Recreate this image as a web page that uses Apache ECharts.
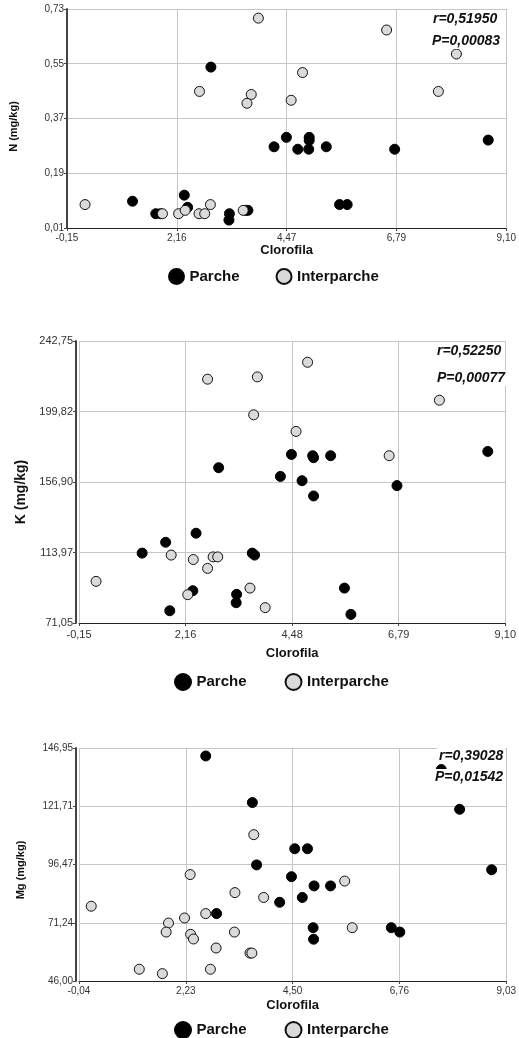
<!DOCTYPE html>
<html>
<head>
<meta charset="utf-8">
<script src="https://cdn.jsdelivr.net/npm/echarts@6/dist/echarts.min.js"></script>
<style>
  html, body { margin: 0; padding: 0; background: #fff; }
  #chart { width: 519px; height: 1038px; }
</style>
</head>
<body>
<div id="chart"></div>
<script>
// --- N (mg/kg) vs Clorofila
const nXTicks = ['-0,15', '2,16', '4,47', '6,79', '9,10']
const nYTicks = ['0,01', '0,19', '0,37', '0,55', '0,73']
const nParcheX = [2.88, 4.47, 4.95, 4.95, 4.21, 4.71, 4.94, 5.31, 6.75, 8.72, 1.23, 1.72, 1.82, 2.32, 2.39, 3.27, 3.26, 3.61, 3.66, 5.59, 5.75]
const nParcheY = [0.539, 0.308, 0.308, 0.298, 0.277, 0.269, 0.269, 0.277, 0.269, 0.299, 0.098, 0.057, 0.057, 0.118, 0.078, 0.057, 0.036, 0.068, 0.068, 0.087, 0.087]
const nInterX = [3.88, 6.58, 8.05, 4.81, 2.64, 3.73, 3.64, 4.57, 7.67, 0.23, 1.86, 2.20, 2.34, 2.63, 2.75, 2.87, 3.56]
const nInterY = [0.700, 0.661, 0.582, 0.521, 0.459, 0.449, 0.420, 0.430, 0.459, 0.087, 0.057, 0.057, 0.068, 0.057, 0.057, 0.087, 0.068]

// --- K (mg/kg) vs Clorofila
const kXTicks = ['-0,15', '2,16', '4,48', '6,79', '9,10']
const kYTicks = ['71,05', '113,97', '156,90', '199,82', '242,75']
const kParcheX = [4.46, 4.92, 4.94, 5.31, 8.72, 2.88, 4.22, 4.69, 6.75, 4.94, 2.39, 1.73, 1.22, 3.61, 3.66, 2.32, 3.27, 3.26, 1.82, 5.61, 5.75]
const kParcheY = [173.7, 172.9, 171.7, 172.9, 175.5, 165.6, 160.3, 157.7, 154.7, 148.4, 125.7, 120.2, 113.6, 113.6, 112.4, 90.7, 88.5, 83.4, 78.5, 92.3, 76.3]
const kInterX = [4.81, 2.64, 3.72, 3.64, 7.67, 4.56, 6.58, 1.85, 2.33, 2.76, 2.86, 2.64, 0.22, 3.56, 2.21, 3.89]
const kInterY = [229.8, 219.5, 220.9, 197.8, 206.7, 187.7, 172.9, 112.4, 109.7, 111.3, 111.3, 104.3, 96.4, 92.3, 88.3, 80.4]

// --- Mg (mg/kg) vs Clorofila
const mgXTicks = ['-0,04', '2,23', '4,50', '6,76', '9,03']
const mgYTicks = ['46,00', '71,24', '96,47', '121,71', '146,95']
const mgParcheX = [2.65, 3.64, 8.04, 7.65, 4.54, 4.81, 3.73, 8.72, 4.47, 4.95, 5.30, 4.70, 4.22, 2.88, 4.93, 6.59, 6.77, 4.94]
const mgParcheY = [143.5, 123.3, 120.4, 137.6, 103.3, 103.3, 96.3, 94.2, 91.2, 87.2, 87.2, 82.2, 80.1, 75.2, 69.1, 69.1, 67.2, 64.1]
const mgInterX = [3.67, 2.32, 5.60, 3.27, 3.88, 0.22, 2.65, 2.20, 1.86, 1.81, 2.33, 2.39, 3.26, 5.76, 2.87, 3.59, 3.63, 1.24, 1.73, 2.75]
const mgInterY = [109.4, 92.1, 89.3, 84.3, 82.2, 78.4, 75.2, 73.3, 71.1, 67.2, 66.2, 64.2, 67.2, 69.1, 60.3, 58.1, 58.1, 51.1, 49.2, 51.1]

const stats = [
  ['r=0,51950', 'P=0,00083'],
  ['r=0,52250', 'P=0,00077'],
  ['r=0,39028', 'P=0,01542']
]

const FONT = '"Liberation Sans", Arial, Helvetica, sans-serif'

function toNum(s) {
  return parseFloat(s.replace(',', '.'))
}

function valueAxis(ticks, gridIndex, opts) {
  const min = toNum(ticks[0])
  const max = toNum(ticks[ticks.length - 1])
  const interval = (max - min) / (ticks.length - 1)
  return {
    type: 'value',
    gridIndex,
    min,
    max,
    interval,
    offset: opts.offset || 0,
    axisLine: { show: true, onZero: false, lineStyle: { color: opts.lineColor, width: opts.lineWidth } },
    axisTick: { show: true, length: 3, lineStyle: { color: '#444' } },
    axisLabel: {
      fontSize: opts.fontSize,
      fontFamily: FONT,
      color: '#333',
      margin: opts.margin,
      showMinLabel: true,
      showMaxLabel: true,
      formatter: v => ticks[Math.round((v - min) / interval)] || ''
    },
    splitLine: { show: true, lineStyle: { color: '#c6c6c6', width: 1 } },
    name: opts.name,
    nameLocation: 'middle',
    nameGap: opts.nameGap,
    nameTextStyle: {
      fontFamily: FONT,
      fontWeight: 'bold',
      fontSize: opts.nameSize,
      color: '#111',
      padding: opts.namePad || 0
    }
  }
}

function scatter(name, xs, ys, idx, dark, size) {
  return {
    name,
    type: 'scatter',
    xAxisIndex: idx,
    yAxisIndex: idx,
    data: xs.map((x, i) => [x, ys[i]]),
    symbol: 'circle',
    symbolSize: size,
    itemStyle: dark
      ? { color: '#000', borderColor: '#000', borderWidth: 1, opacity: 1 }
      : { color: '#dadada', borderColor: '#111', borderWidth: 1, opacity: 1 },
    emphasis: { disabled: true }
  }
}

function legend(left, top, size, gap, fontSize) {
  return {
    data: ['Parche', 'Interparche'],
    left,
    top,
    padding: 0,
    icon: 'circle',
    itemWidth: size,
    itemHeight: size - 1,
    itemGap: gap,
    selectedMode: false,
    textStyle: { fontFamily: FONT, fontWeight: 'bold', fontSize, color: '#111' }
  }
}

function statText(text, x, y) {
  return {
    type: 'text',
    x,
    y,
    z: 100,
    style: {
      text,
      font: 'italic bold 14px ' + FONT,
      fill: '#111',
      verticalAlign: 'middle',
      backgroundColor: '#fff',
      padding: [1, 2]
    }
  }
}

const chart = echarts.init(document.getElementById('chart'))

chart.setOption({
  animation: false,
  backgroundColor: '#fff',
  grid: [
    { left: 66, right: 12, top: 9, height: 219 },
    { left: 79, right: 12, top: 341, height: 282 },
    { left: 79, right: 12, top: 748, height: 233 }
  ],
  xAxis: [
    valueAxis(nXTicks, 0, { lineColor: '#222', lineWidth: 1, fontSize: 10, margin: 5, name: 'Clorofila', nameGap: 16, nameSize: 13 }),
    valueAxis(kXTicks, 1, { lineColor: '#222', lineWidth: 1, fontSize: 11, margin: 6, name: 'Clorofila', nameGap: 24, nameSize: 13 }),
    valueAxis(mgXTicks, 2, { lineColor: '#222', lineWidth: 1, fontSize: 10, margin: 5, name: 'Clorofila', nameGap: 18, nameSize: 13 })
  ],
  yAxis: [
    valueAxis(nYTicks, 0, { lineColor: '#444', lineWidth: 2, fontSize: 10, margin: 3, name: 'N (mg/kg)', nameGap: 48, nameSize: 11, namePad: [0, 16, 0, 0] }),
    valueAxis(kYTicks, 1, { lineColor: '#444', lineWidth: 2, fontSize: 11, margin: 3, name: 'K (mg/kg)', nameGap: 48, nameSize: 14, offset: 3, namePad: [0, 20, 0, 0] }),
    valueAxis(mgYTicks, 2, { lineColor: '#444', lineWidth: 2, fontSize: 10, margin: 3, name: 'Mg (mg/kg)', nameGap: 50, nameSize: 11, offset: 3, namePad: [0, 11, 0, 0] })
  ],
  legend: [
    legend(168, 268, 16, 36, 15),
    legend(174, 673, 17, 38, 15),
    legend(174, 1021, 17, 38, 15)
  ],
  series: [
    scatter('Parche', nParcheX, nParcheY, 0, true, 10),
    scatter('Interparche', nInterX, nInterY, 0, false, 10),
    scatter('Parche', kParcheX, kParcheY, 1, true, 10),
    scatter('Interparche', kInterX, kInterY, 1, false, 10),
    scatter('Parche', mgParcheX, mgParcheY, 2, true, 10),
    scatter('Interparche', mgInterX, mgInterY, 2, false, 10)
  ],
  graphic: [
    statText(stats[0][0], 431, 19),
    statText(stats[0][1], 430, 41),
    statText(stats[1][0], 435, 351),
    statText(stats[1][1], 435, 378),
    statText(stats[2][0], 437, 756),
    statText(stats[2][1], 433, 777)
  ]
})

window.addEventListener('resize', () => chart.resize())
</script>
</body>
</html>
